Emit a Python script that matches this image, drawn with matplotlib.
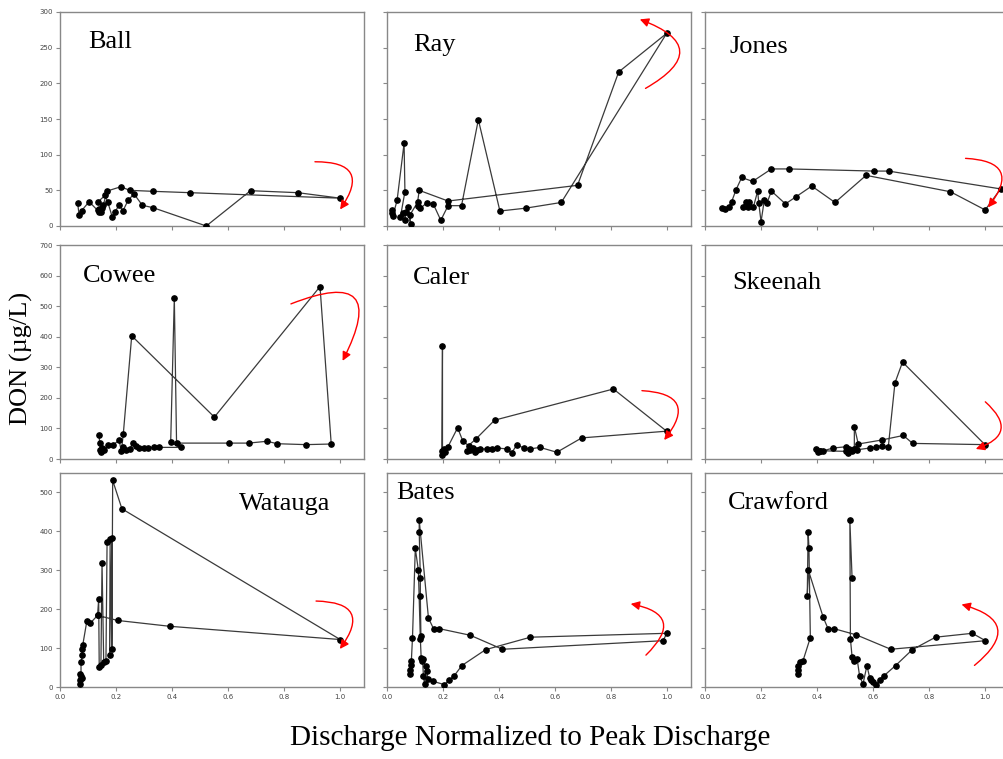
import matplotlib
matplotlib.use("Agg")
import matplotlib.pyplot as plt
from matplotlib.patches import FancyArrowPatch

# ---- data (normalized discharge, DON ug/L) ----
ball_x = [0.063, 0.068, 0.077, 0.104, 0.134, 0.14, 0.145, 0.15, 0.136, 0.161, 0.171, 0.187, 0.197, 0.21,
          0.225, 0.243, 0.264, 0.294, 0.332, 0.522, 0.68, 0.849, 1.0, 0.465, 0.332, 0.249, 0.217, 0.168,
          0.155, 0.14]
ball_y = [32, 16, 21.5, 34, 22, 24, 20, 25, 34, 43, 33, 12, 20, 29,
          21.5, 36, 45, 29, 25.7, 0, 49.5, 46.7, 39, 46.7, 48.6, 50, 55, 49,
          30, 20]

ray_x = [0.019, 0.019, 0.021, 0.036, 0.061, 0.064, 0.048, 0.057, 0.063, 0.069, 0.075, 0.084, 0.081, 0.109,
         0.115, 0.218, 0.68, 0.827, 0.998, 0.622, 0.495, 0.403, 0.326, 0.266, 0.218, 0.192, 0.165, 0.141,
         0.119, 0.109]
ray_y = [23, 18, 14, 36, 116, 48, 13, 18, 8, 19, 27, 3, 15, 33,
         50, 35, 57, 216, 270, 33, 25, 21, 149, 28.5, 28.5, 8, 31, 32,
         25, 28]

jones_x = [0.061, 0.071, 0.085, 0.095, 0.111, 0.131, 0.17, 0.237, 0.299, 0.604, 0.655, 1.055, 1.0, 0.876,
           0.575, 0.464, 0.381, 0.325, 0.287, 0.237, 0.221, 0.212, 0.2, 0.192, 0.188, 0.173, 0.158, 0.152,
           0.146, 0.135]
jones_y = [25, 23.5, 27, 34, 51, 68, 62.5, 80, 80, 77, 77, 52, 22.5, 48,
           71, 33, 56, 41, 31, 49, 32, 37, 6, 32, 49, 27, 34, 27,
           34, 27]

cowee_x = [0.139, 0.142, 0.143, 0.145, 0.151, 0.157, 0.172, 0.19, 0.211, 0.219, 0.226, 0.256, 0.551, 0.928,
           0.968, 0.878, 0.775, 0.739, 0.673, 0.604, 0.416, 0.408, 0.395, 0.431, 0.354, 0.334, 0.315, 0.3,
           0.282, 0.271, 0.259, 0.25, 0.235, 0.226]
cowee_y = [79, 52, 30, 22, 36, 30, 47, 47, 61, 25, 83, 403, 137, 564,
           49, 47, 50, 58, 52, 52, 52, 528, 54, 38, 38, 39, 35, 35,
           36, 44, 52, 33, 30, 40]

caler_x = [0.198, 0.198, 0.196, 0.202, 0.208, 0.217, 0.252, 0.271, 0.291, 0.318, 0.384, 0.808, 0.998, 0.695,
           0.606, 0.546, 0.511, 0.489, 0.463, 0.445, 0.428, 0.392, 0.374, 0.356, 0.333, 0.323, 0.315, 0.306,
           0.297, 0.285]
caler_y = [14, 369, 25, 33, 22, 39, 102, 58, 44, 66, 127, 229, 91, 69,
           22, 38, 33, 36, 46, 20, 33, 36, 34, 33, 33, 31, 22, 36,
           31, 25]

skeenah_x = [0.396, 0.402, 0.41, 0.422, 0.458, 0.503, 0.515, 0.535, 0.541, 0.589, 0.609, 0.63, 0.654, 0.678,
             0.705, 0.999, 0.741, 0.708, 0.63, 0.547, 0.533, 0.533, 0.523, 0.509, 0.505, 0.41]
skeenah_y = [33, 22, 27, 27, 36, 40, 33, 33, 30, 36, 38, 44, 38, 249,
             317, 47, 51, 77, 62, 49, 106, 33, 25, 19, 25, 27]

watauga_x = [0.071, 0.073, 0.071, 0.078, 0.075, 0.075, 0.08, 0.078, 0.081, 0.096, 0.108, 0.134, 0.206, 0.392,
             1.0, 0.221, 0.188, 0.185, 0.185, 0.177, 0.179, 0.168, 0.164, 0.156, 0.15, 0.146, 0.14, 0.138,
             0.134]
watauga_y = [8.6, 17, 32.5, 24, 27, 64, 81, 98, 107, 170, 164, 184, 171, 156,
             122, 458, 531, 98, 384, 81, 381, 372, 68, 64, 319, 56, 51, 225,
             184]

bates_x = [0.083, 0.083, 0.087, 0.087, 0.091, 0.101, 0.112, 0.119, 0.122, 0.125, 0.127, 0.13, 0.134, 0.139,
           0.142, 0.146, 0.163, 0.205, 0.223, 0.24, 0.267, 0.352, 0.512, 0.999, 0.985, 0.412, 0.297, 0.186,
           0.166, 0.148, 0.115, 0.115, 0.119, 0.119, 0.121]
bates_y = [34, 44, 57, 68, 127, 356, 300, 124, 74, 68, 72, 27, 8, 55,
           40, 21, 15, 6, 19, 29, 55, 96, 128, 138, 119, 97, 133, 150,
           150, 177, 429, 399, 279, 235, 130]

crawford_x = [0.333, 0.333, 0.333, 0.338, 0.35, 0.376, 0.371, 0.368, 0.365, 0.369, 0.422, 0.439, 0.46, 0.54,
              0.663, 1.001, 0.954, 0.823, 0.74, 0.68, 0.639, 0.624, 0.609, 0.6, 0.594, 0.588, 0.578, 0.564,
              0.552, 0.543, 0.531, 0.525, 0.519, 0.517, 0.525]
crawford_y = [33, 44, 55, 64, 68, 127, 358, 399, 234, 300, 179, 150, 150, 134,
              97, 119, 138, 128, 96, 55, 29, 19, 6, 13, 19, 23, 55, 8,
              27, 72, 66, 77, 124, 429, 279]

names = ["Ball", "Ray", "Jones", "Cowee", "Caler", "Skeenah", "Watauga", "Bates", "Crawford"]
xs = [ball_x, ray_x, jones_x, cowee_x, caler_x, skeenah_x, watauga_x, bates_x, crawford_x]
ys = [ball_y, ray_y, jones_y, cowee_y, caler_y, skeenah_y, watauga_y, bates_y, crawford_y]

row_yticks = [[0, 50, 100, 150, 200, 250, 300], [0, 100, 200, 300, 400, 500, 600, 700], [0, 100, 200, 300, 400, 500]]
row_ylim = [300, 700, 550]
xticks = [0.0, 0.2, 0.4, 0.6, 0.8, 1.0]

# layout in pixels (left, top) for each panel
W, H = 1004, 759
col_left = [60, 387, 705]
row_top = [12, 245, 473]
pw, ph = 304, 214

# title position (axes fraction) per panel
title_pos = [(0.092, 0.83), (0.085, 0.82), (0.082, 0.81),
             (0.076, 0.827), (0.085, 0.82), (0.089, 0.795),
             (0.59, 0.827), (0.03, 0.88), (0.075, 0.83)]

# red arrows: tail, head, rad
arrows = [((0.90, 90), (0.994, 20), -1.0),
          ((0.914, 191), (0.893, 291), 1.1),
          ((0.92, 95), (1.004, 23), -1.0),
          ((0.815, 504), (1.004, 313), -1.35),
          ((0.90, 224), (0.983, 55), -1.0),
          ((0.993, 193), (0.957, 30), -0.9),
          ((0.904, 221), (0.993, 92), -1.0),
          ((0.917, 77), (0.86, 215), 1.0),
          ((0.954, 51), (0.906, 214), 1.0)]

fig = plt.figure(figsize=(W / 100, H / 100), dpi=100)
serif = "Liberation Serif"

for i in range(9):
    r, c = divmod(i, 3)
    ax = fig.add_axes([col_left[c] / W, (H - row_top[r] - ph) / H, pw / W, ph / H])
    ax.plot(xs[i], ys[i], color="#3a3a3a", lw=0.9, marker="o", ms=3.8,
            mfc="black", mec="black", zorder=3)
    ax.set_xlim(0, 1.085)
    ax.set_ylim(0, row_ylim[r])
    ax.set_xticks(xticks)
    ax.set_yticks(row_yticks[r])
    ax.tick_params(direction="out", length=3, width=0.8, color="#888888",
                   labelsize=5, labelcolor="#444444", pad=2)
    if r < 2:
        ax.set_xticklabels([])
    else:
        ax.set_xticklabels(["%.1f" % t for t in xticks])
    if c > 0:
        ax.set_yticklabels([])
    for s in ax.spines.values():
        s.set_color("#888888")
        s.set_linewidth(1)
    tx, ty = title_pos[i]
    ax.text(tx, ty, names[i], transform=ax.transAxes, fontsize=19,
            family=serif, va="baseline", ha="left")
    tail, head, rad = arrows[i]
    arr = FancyArrowPatch(tail, head, connectionstyle="arc3,rad=%s" % rad,
                          arrowstyle="-|>", mutation_scale=13, color="red",
                          lw=1, clip_on=False, zorder=4)
    ax.add_patch(arr)

fig.text(21 / W, 1 - 358 / H, "DON (\u00b5g/L)", rotation=90, fontsize=19,
         family=serif, ha="center", va="center")
fig.text(530 / W, 1 - 738 / H, "Discharge Normalized to Peak Discharge",
         fontsize=21, family=serif, ha="center", va="center")

fig.savefig("out.png", dpi=100)
